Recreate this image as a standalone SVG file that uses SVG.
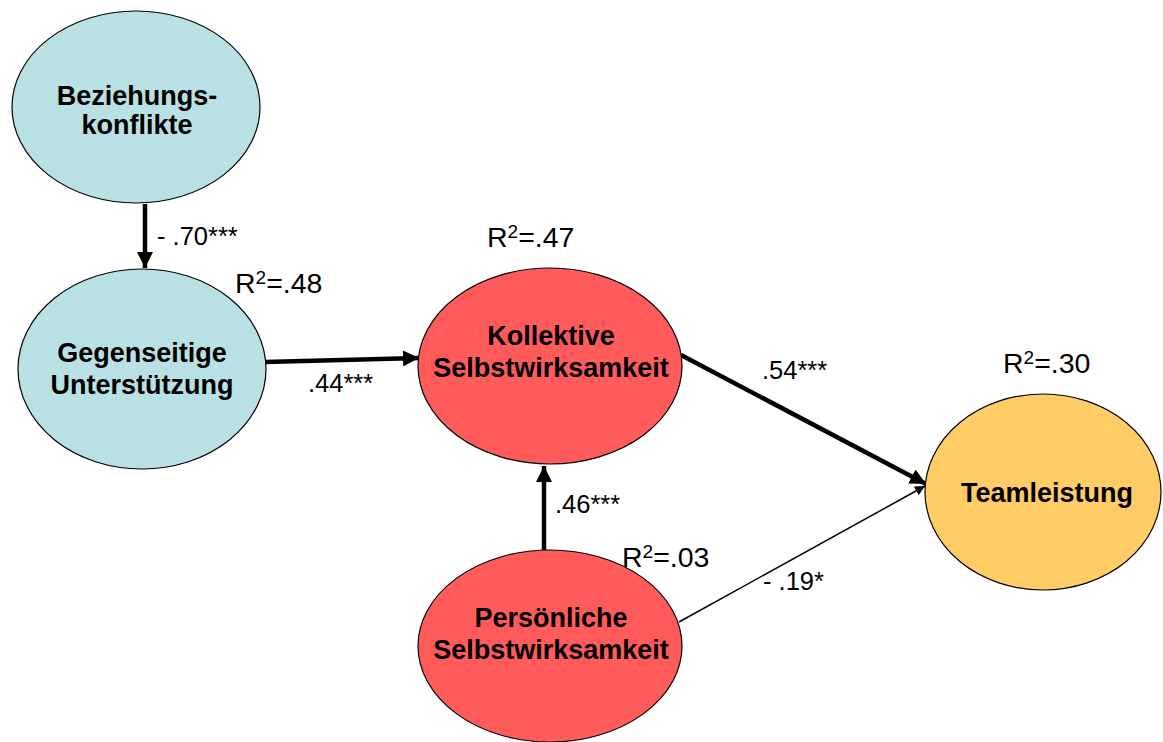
<svg xmlns="http://www.w3.org/2000/svg" width="1163" height="742" viewBox="0 0 1163 742">
  <style>
    .node { stroke: #000; stroke-width: 1.2; }
    .blue { fill: #B9E0E3; }
    .red { fill: #FF5B5B; }
    .gold { fill: #FFCC66; }
    .label { font-family: "Liberation Sans", Arial, sans-serif; font-weight: bold; font-size: 27px; fill: #000; text-anchor: middle; }
    .coef { font-family: "Liberation Sans", Arial, sans-serif; font-size: 25.5px; fill: #000; }
    .r2 { font-family: "Liberation Sans", Arial, sans-serif; font-size: 28.5px; fill: #000; }
    .sup { font-size: 19px; }
    .thick { stroke: #000; stroke-width: 4.5; fill: none; }
    .thin { stroke: #000; stroke-width: 1.5; fill: none; }
  </style>
  <defs>
    <marker id="headBig" markerUnits="userSpaceOnUse" markerWidth="18" markerHeight="16" refX="16" refY="8" orient="auto">
      <path d="M0,0 L16,8 L0,16 Z" fill="#000"/>
    </marker>
    <marker id="headSmall" markerUnits="userSpaceOnUse" markerWidth="12" markerHeight="10" refX="10" refY="5" orient="auto">
      <path d="M0,0 L10,5 L0,10 Z" fill="#000"/>
    </marker>
  </defs>

  <rect width="1163" height="742" fill="#fff"/>

  <!-- connectors -->
  <g id="connectors">
    <line class="thick" x1="145" y1="204" x2="145" y2="268" marker-end="url(#headBig)"/>
    <line class="thick" x1="265" y1="362" x2="419" y2="358" marker-end="url(#headBig)"/>
    <line class="thick" x1="544" y1="550" x2="544" y2="466" marker-end="url(#headBig)"/>
    <line class="thick" x1="681" y1="355" x2="926" y2="484" marker-end="url(#headBig)"/>
    <line class="thin" x1="679" y1="622" x2="925" y2="486" marker-end="url(#headSmall)"/>
  </g>

  <!-- coefficient labels -->
  <g id="coefficients">
    <text class="coef" x="157" y="245">- .70***</text>
    <text class="coef" x="308" y="392">.44***</text>
    <text class="coef" x="555" y="513">.46***</text>
    <text class="coef" x="762" y="379">.54***</text>
    <text class="coef" x="763" y="590">- .19*</text>
  </g>

  <!-- explained variance -->
  <g id="r-squared">
    <text class="r2" x="235" y="293">R<tspan class="sup" dy="-9">2</tspan><tspan dy="9">=.48</tspan></text>
    <text class="r2" x="487" y="247">R<tspan class="sup" dy="-9">2</tspan><tspan dy="9">=.47</tspan></text>
    <text class="r2" x="1003" y="373">R<tspan class="sup" dy="-9">2</tspan><tspan dy="9">=.30</tspan></text>
    <text class="r2" x="622" y="567">R<tspan class="sup" dy="-9">2</tspan><tspan dy="9">=.03</tspan></text>
  </g>

  <g id="beziehungskonflikte">
    <ellipse class="node blue" cx="136" cy="107" rx="124" ry="96"/>
    <text class="label" x="137" y="105">Beziehungs-</text>
    <text class="label" x="137" y="134">konflikte</text>
  </g>

  <g id="gegenseitige-unterstuetzung">
    <ellipse class="node blue" cx="142" cy="369" rx="124" ry="100"/>
    <text class="label" x="142" y="362">Gegenseitige</text>
    <text class="label" x="142" y="394">Unterstützung</text>
  </g>

  <g id="kollektive-selbstwirksamkeit">
    <ellipse class="node red" cx="550" cy="366" rx="132" ry="98"/>
    <text class="label" x="551" y="345">Kollektive</text>
    <text class="label" x="551" y="377">Selbstwirksamkeit</text>
  </g>

  <g id="persoenliche-selbstwirksamkeit">
    <ellipse class="node red" cx="550" cy="646" rx="132" ry="96"/>
    <text class="label" x="551" y="627">Persönliche</text>
    <text class="label" x="551" y="659">Selbstwirksamkeit</text>
  </g>

  <g id="teamleistung">
    <ellipse class="node gold" cx="1043" cy="492" rx="118" ry="98"/>
    <text class="label" x="1047" y="502">Teamleistung</text>
  </g>
</svg>
